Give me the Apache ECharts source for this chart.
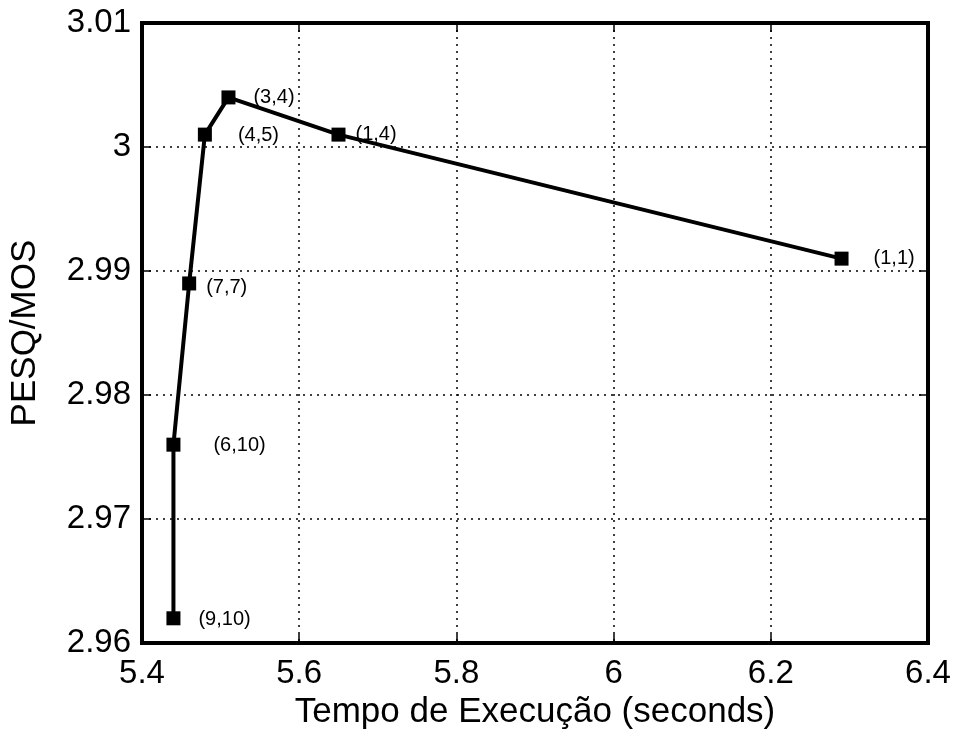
<!DOCTYPE html>
<html>
<head>
<meta charset="utf-8">
<script src="https://cdn.jsdelivr.net/npm/echarts@6/dist/echarts.min.js"></script>
<style>
html,body{margin:0;padding:0;background:#fff;}
#c{width:957px;height:735px;}
</style>
</head>
<body>
<div id="c"></div>
<script>
// Data
const execTime = [5.44, 5.44, 5.46, 5.48, 5.51, 5.65, 6.29];
const pesqMos  = [2.962, 2.976, 2.989, 3.001, 3.004, 3.001, 2.991];
const pointLabels = ['(9,10)', '(6,10)', '(7,7)', '(4,5)', '(3,4)', '(1,4)', '(1,1)'];
const xTicks = [5.4, 5.6, 5.8, 6, 6.2, 6.4];
const yTicks = [2.96, 2.97, 2.98, 2.99, 3, 3.01];

const FONT = '"Liberation Sans", Arial, Helvetica, sans-serif';
const labelGap = [18, 33, 10, 26, 18, 10, 25];
const labelDy  = [1, 1, 4, 1, 0, 0, 0];

const chart = echarts.init(document.getElementById('c'), null, {renderer: 'canvas'});

const fmtX = v => String(parseFloat(v.toFixed(2)));
const fmtY = v => String(parseFloat(v.toFixed(3)));

const tickStyle = {show: true, inside: true, length: 9, lineStyle: {color: '#000', width: 1.5}};
const gridLine = {show: true, lineStyle: {color: '#000', width: 1.5, type: [2, 5]}};

const option = {
  backgroundColor: '#fff',
  animation: false,
  grid: {left: 137, right: 29, top: 23, bottom: 90, show: true, borderColor: '#000', borderWidth: 4, backgroundColor: 'transparent'},
  xAxis: [{
    type: 'value', min: xTicks[0], max: xTicks[xTicks.length - 1], interval: 0.2,
    name: 'Tempo de Execução (seconds)', nameLocation: 'middle', nameGap: 43,
    nameTextStyle: {fontFamily: FONT, fontSize: 35, color: '#000'},
    axisLine: {show: true, onZero: false, lineStyle: {color: '#000', width: 4}},
    axisTick: tickStyle,
    axisLabel: {formatter: fmtX, fontFamily: FONT, fontSize: 33, color: '#000', margin: 14},
    splitLine: gridLine
  }, {
    type: 'value', position: 'top', min: xTicks[0], max: xTicks[xTicks.length - 1], interval: 0.2,
    axisLine: {show: true, lineStyle: {color: '#000', width: 4}},
    axisTick: tickStyle, axisLabel: {show: false}, splitLine: {show: false}
  }],
  yAxis: [{
    type: 'value', min: yTicks[0], max: yTicks[yTicks.length - 1], interval: 0.01,
    name: 'PESQ/MOS', nameLocation: 'middle', nameGap: 99,
    nameTextStyle: {fontFamily: FONT, fontSize: 35, color: '#000'},
    axisLine: {show: true, onZero: false, lineStyle: {color: '#000', width: 4}},
    axisTick: tickStyle,
    axisLabel: {formatter: fmtY, fontFamily: FONT, fontSize: 33, color: '#000', margin: 11},
    splitLine: gridLine
  }, {
    type: 'value', position: 'right', min: yTicks[0], max: yTicks[yTicks.length - 1], interval: 0.01,
    axisLine: {show: true, lineStyle: {color: '#000', width: 4}},
    axisTick: tickStyle, axisLabel: {show: false}, splitLine: {show: false}
  }],
  series: [{
    type: 'line',
    xAxisIndex: 0, yAxisIndex: 0,
    data: execTime.map((x, i) => ({
      value: [x, pesqMos[i]],
      label: {distance: labelGap[i], offset: [0, labelDy[i]]}
    })),
    symbol: 'rect', symbolSize: 14,
    itemStyle: {color: '#000'},
    lineStyle: {color: '#000', width: 4},
    label: {
      show: true, position: 'right',
      formatter: p => pointLabels[p.dataIndex],
      fontFamily: FONT, fontSize: 20, color: '#000'
    },
    z: 5
  }]
};
chart.setOption(option);
</script>
</body>
</html>
